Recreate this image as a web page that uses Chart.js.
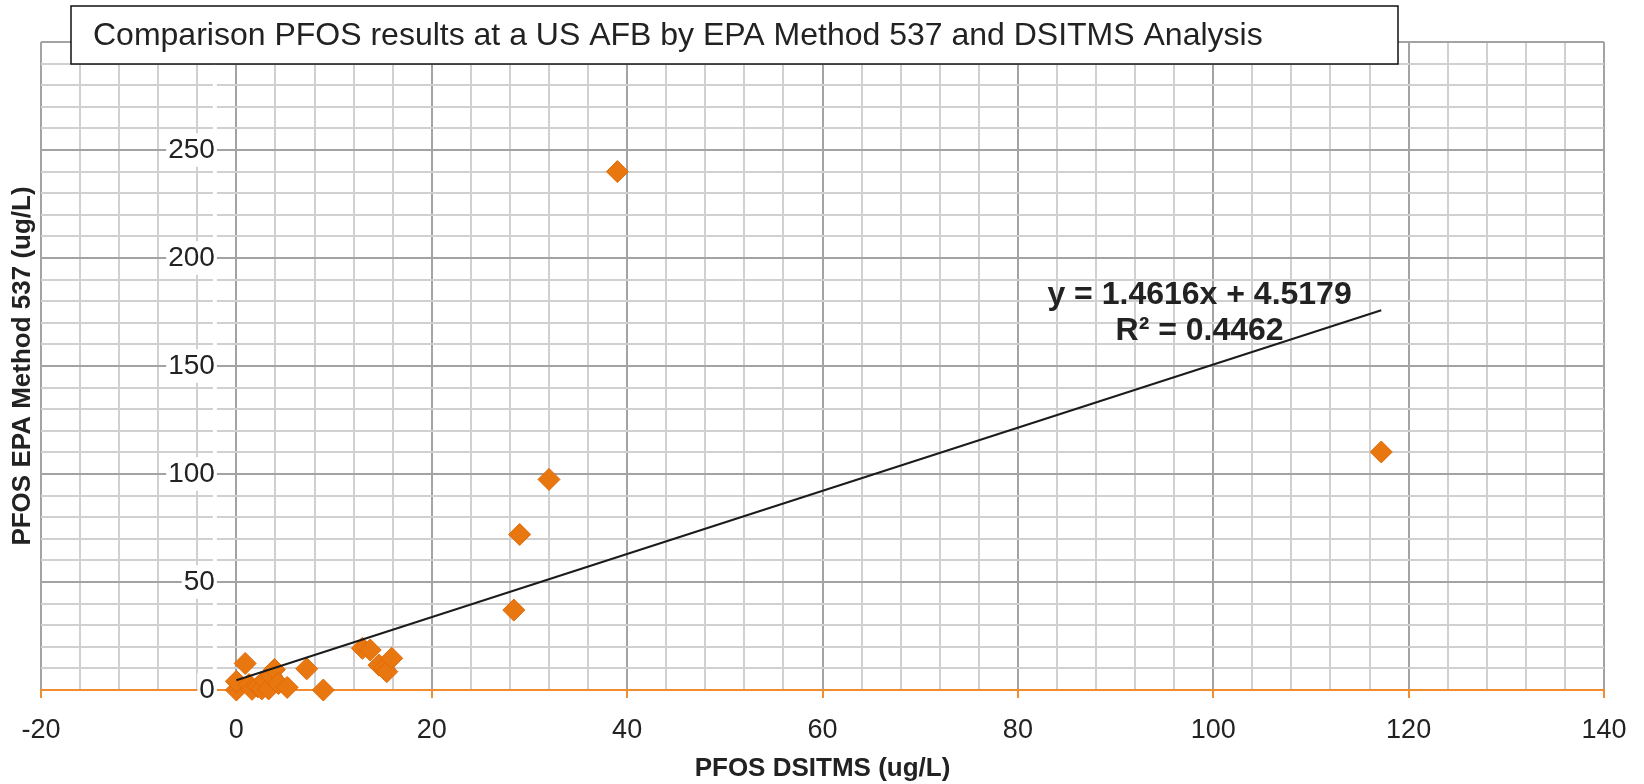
<!DOCTYPE html>
<html>
<head>
<meta charset="utf-8">
<script src="https://cdn.jsdelivr.net/npm/chart.js@4.4.1/dist/chart.umd.min.js"></script>
<style>
  html,body{margin:0;padding:0;background:#fff}
  #wrap{width:1644px;height:784px;position:relative}
</style>
</head>
<body>
<div id="wrap"><canvas id="chart"></canvas></div>
<script>
// ─── DATA ───────────────────────────────────────────────────────────
// PFOS by DSITMS (x) vs EPA Method 537 (y), ug/L
const dsitms = [0, 0, 0.9, 1.3, 1.6, 2.2, 2.6, 2.9, 3.3, 3.6, 3.9, 4.3, 5.2, 7.2, 8.9,
                12.9, 13.7, 14.6, 15.1, 15.4, 15.9, 28.4, 29.0, 32.0, 39.0, 117.2];
const epa537 = [0, 4, 12.3, 2.5, 0.3, 1.5, 0.5, 4.5, 0.5, 6.5, 9.5, 3.0, 1.2, 9.8, 0,
                19.3, 18.5, 11.5, 10.0, 8.5, 14.7, 37.0, 72.0, 97.5, 240.0, 110.2];

// linear trendline as printed on the chart
const trendSlope = 1.4616;
const trendIntercept = 4.5179;
const trendR2 = 0.4462;

const xLabels = [-20, 0, 20, 40, 60, 80, 100, 120, 140];
const yLabels = [0, 50, 100, 150, 200, 250];

const TITLE = 'Comparison PFOS results at a US AFB by EPA Method 537 and DSITMS Analysis';
const X_TITLE = 'PFOS DSITMS (ug/L)';
const Y_TITLE = 'PFOS EPA Method 537 (ug/L)';

// ─── STYLE ──────────────────────────────────────────────────────────
const FONT = '"Liberation Sans", Arial, Helvetica, sans-serif';
const ORANGE = '#E9770F';
const AXIS_ORANGE = '#F28C30';
const GRID_MAJOR = '#a3a3a3';
const GRID_MINOR = '#d0d0d0';
const TXT = '#222';

const points = dsitms.map((x, i) => ({x, y: epa537[i]}));
const tx0 = Math.min(...dsitms), tx1 = Math.max(...dsitms);
const trend = [tx0, tx1].map(x => ({x, y: trendSlope * x + trendIntercept}));

// ─── OVERLAY: title box, y title, trend equation ────────────────────
const overlay = {
  id: 'overlay',
  afterDraw(chart){
    const {ctx, chartArea, scales} = chart;
    const xs = scales.x, ys = scales.y;
    ctx.save();
    // trend equation
    ctx.fillStyle = TXT;
    ctx.font = 'bold 32px ' + FONT;
    ctx.textAlign = 'center';
    ctx.textBaseline = 'middle';
    const ex = xs.getPixelForValue(98.6);
    ctx.fillText(`y = ${trendSlope}x + ${trendIntercept}`, ex, ys.getPixelForValue(183));
    ctx.fillText(`R² = ${trendR2}`, ex, ys.getPixelForValue(166));
    // y axis title
    ctx.save();
    ctx.font = 'bold 26px ' + FONT;
    ctx.translate(chartArea.left - 18, (chartArea.top + chartArea.bottom) / 2);
    ctx.rotate(-Math.PI / 2);
    ctx.fillText(Y_TITLE, 0, 0);
    ctx.restore();
    // chart title in a box
    ctx.fillStyle = '#fff';
    ctx.fillRect(71, 6, 1327, 58);
    ctx.strokeStyle = '#111';
    ctx.lineWidth = 1.5;
    ctx.strokeRect(71, 6, 1327, 58);
    ctx.fillStyle = TXT;
    ctx.font = '32px ' + FONT;
    ctx.textAlign = 'left';
    ctx.fillText(TITLE, 93, 36);
    ctx.restore();
  }
};

new Chart(document.getElementById('chart'), {
  type: 'scatter',
  data: {
    datasets: [
      {
        label: 'Linear',
        type: 'line',
        data: trend,
        borderColor: '#1b1b1b',
        borderWidth: 2,
        pointRadius: 0,
        fill: false,
        order: 0
      },
      {
        label: 'PFOS',
        data: points,
        pointStyle: 'rectRot',
        pointRadius: 11,
        backgroundColor: ORANGE,
        borderColor: '#E06A08',
        borderWidth: 1,
        clip: false,
        order: 1
      }
    ]
  },
  options: {
    responsive: true,
    maintainAspectRatio: false,
    animation: false,
    layout: {padding: {left: 41, right: 40, top: 42, bottom: 0}},
    plugins: {legend: {display: false}, tooltip: {enabled: false}, title: {display: false}},
    scales: {
      x: {
        type: 'linear',
        position: 'bottom',
        min: -20, max: 140,
        afterFit: s => { s.height = 94; },
        ticks: {
          stepSize: 4,
          autoSkip: false,
          maxRotation: 0,
          padding: 16,
          color: TXT,
          font: {family: FONT, size: 27},
          callback: v => xLabels.includes(v) ? v : ''
        },
        grid: {
          lineWidth: 2,
          tickLength: 8,
          tickWidth: 2,
          color: c => c.tick && c.tick.value % 20 === 0 ? GRID_MAJOR : GRID_MINOR,
          tickColor: c => c.tick && c.tick.value % 20 === 0 ? AXIS_ORANGE : 'rgba(0,0,0,0)'
        },
        border: {color: AXIS_ORANGE, width: 2},
        title: {
          display: true,
          text: X_TITLE,
          color: TXT,
          font: {family: FONT, size: 26, weight: 'bold'},
          padding: {top: 0, bottom: 0}
        }
      },
      y: {
        type: 'linear',
        // Excel-style: labels sit just left of the x=0 line
        position: {x: -2.2},
        min: 0, max: 300,
        ticks: {
          stepSize: 10,
          autoSkip: false,
          color: TXT,
          font: {family: FONT, size: 28},
          showLabelBackdrop: true,
          backdropColor: '#fff',
          backdropPadding: {x: 2, y: 0},
          callback: v => yLabels.includes(v) ? v : ''
        },
        grid: {
          lineWidth: 2,
          drawTicks: false,
          color: c => {
            if (!c.tick) return GRID_MINOR;
            if (c.tick.value === 0) return AXIS_ORANGE;
            return c.tick.value % 50 === 0 ? GRID_MAJOR : GRID_MINOR;
          }
        },
        border: {display: false}
      }
    }
  },
  plugins: [overlay]
});
</script>
</body>
</html>
